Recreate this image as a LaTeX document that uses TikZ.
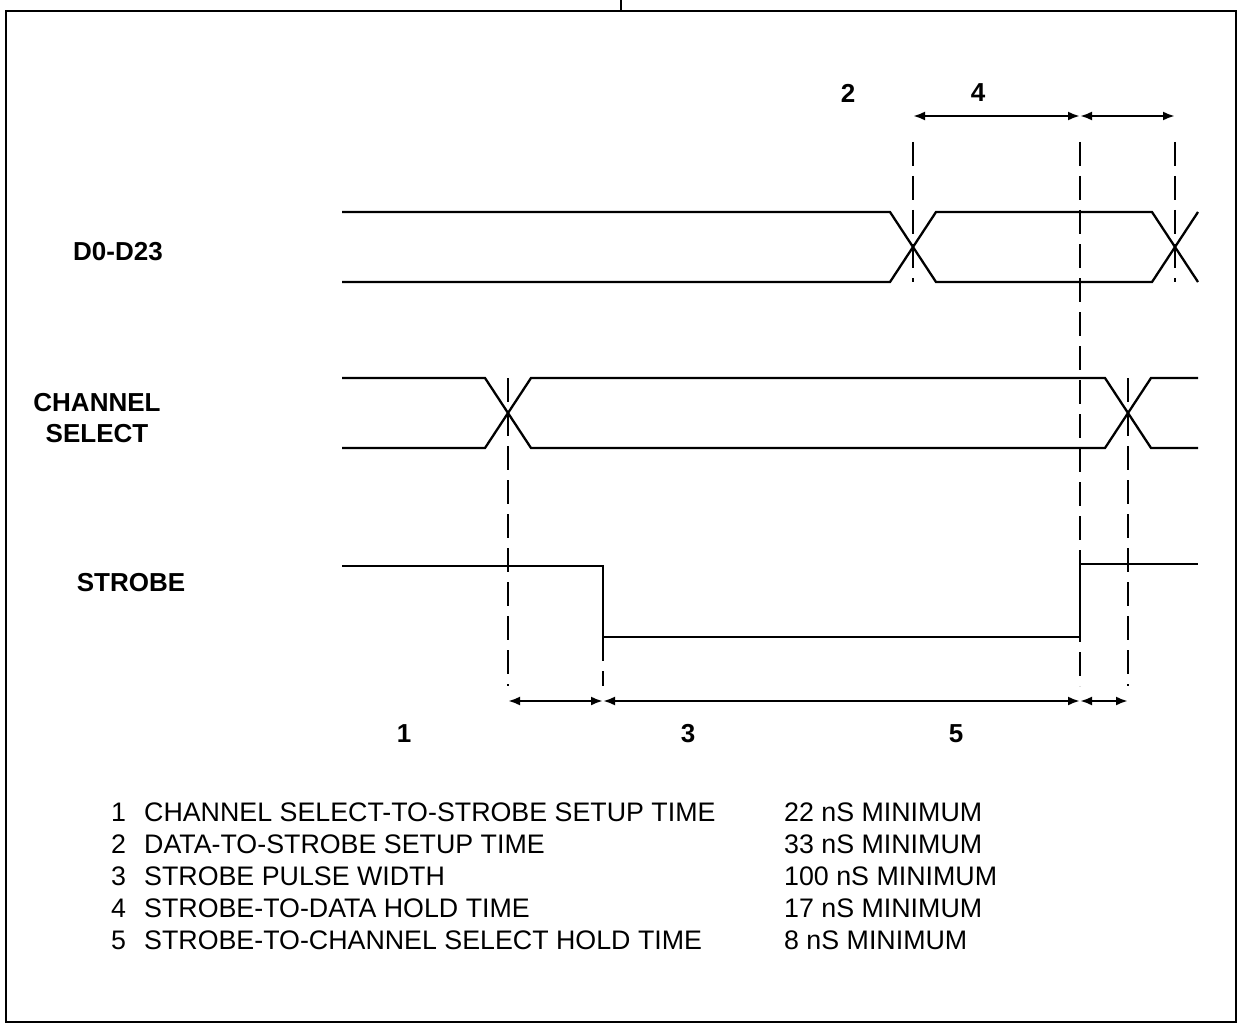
\documentclass[tikz,border=0pt]{standalone}
\usepackage{fontspec}
\setmainfont{Liberation Sans}
\usetikzlibrary{arrows.meta}

\tikzset{every picture/.style={line width=2.3pt}}
\tikzset{
  guide/.style={line width=2pt, dash pattern=on 24pt off 10pt},
  dimarrow/.style={line width=2.3pt, {Latex[length=12pt,width=9pt]}-{Latex[length=12pt,width=9pt]}},
  signame/.style={font=\fontsize{26}{31}\selectfont\bfseries, align=center},
  numlabel/.style={font=\fontsize{26}{30}\selectfont\bfseries},
  legendtxt/.style={font=\fontsize{26.8}{30}\selectfont, anchor=base west, inner sep=0pt}
}

\begin{document}
\begin{tikzpicture}[x=1pt,y=1pt,yscale=-1,xscale=1]
\useasboundingbox (0,0) rectangle (1238,1024);

%Shape: Frame
\draw [line width=2.6pt] (6,11) rectangle (1236,1022);
\draw [line width=2.6pt] (621,0) -- (621,11);

%Guide positions
\coordinate (ga) at (508,0);
\coordinate (gb) at (603,0);
\coordinate (gc) at (913,0);
\coordinate (gd) at (1080,0);
\coordinate (ge) at (1128,0);
\coordinate (gf) at (1175,0);

%Signal D0-D23
\draw (342,212) -- (890,212) -- (936,282) -- (1152,282) -- (1198,212);
\draw (342,282) -- (890,282) -- (936,212) -- (1152,212) -- (1198,282);

%Signal CHANNEL SELECT
\draw (342,378) -- (485,378) -- (531,448) -- (1105,448) -- (1151,378) -- (1198,378);
\draw (342,448) -- (485,448) -- (531,378) -- (1105,378) -- (1151,448) -- (1198,448);

%Signal STROBE
\draw (342,566) -- (603,566) -- (603,637) -- (1080,637) -- (1080,564) -- (1198,564);

%Dashed guides
\draw [guide] (ga |- 0,378) -- (ga |- 0,686);
\draw [guide] (gb |- 0,637) -- (gb |- 0,686);
\draw [guide] (gc |- 0,142) -- (gc |- 0,282);
\draw [guide] (gd |- 0,142) -- (gd |- 0,686);
\draw [guide] (ge |- 0,378) -- (ge |- 0,686);
\draw [guide] (gf |- 0,142) -- (gf |- 0,282);

%Dimension arrows, top
\coordinate (tc) at (gc |- 0,116);
\coordinate (td) at (gd |- 0,116);
\coordinate (tf) at (gf |- 0,116);
\draw [dimarrow] (tc) -- (td);
\draw [dimarrow] (td) -- (tf);

%Dimension arrows, bottom
\coordinate (ba) at (ga |- 0,701);
\coordinate (bb) at (gb |- 0,701);
\coordinate (bd) at (gd |- 0,701);
\coordinate (be) at (ge |- 0,701);
\draw [dimarrow] (ba) -- (bb);
\draw [dimarrow] (bb) -- (bd);
\draw [dimarrow] (bd) -- (be);

% Text Node
\node [signame] (sigdata) at (118,252) {D0-D23};
\node [signame] (sigchan) at (97,418) {CHANNEL\\SELECT};
\node [signame] (sigstrobe) at (131,583) {STROBE};

% Text Node
\node [numlabel] (num2) at (848,93) {2};
\node [numlabel] (num4) at (978,93) {4};
\node [numlabel] (num1) at (404,734) {1};
\node [numlabel] (num3) at (688,734) {3};
\node [numlabel] (num5) at (956,734) {5};

% Legend
\node [legendtxt] (k1) at (110,821) {1};
\node [legendtxt] (t1) at (143,821) {CHANNEL SELECT-TO-STROBE SETUP TIME};
\node [legendtxt] (v1) at (783,821) {22 nS MINIMUM};
\node [legendtxt] (k2) at (110,853) {2};
\node [legendtxt] (t2) at (143,853) {DATA-TO-STROBE SETUP TIME};
\node [legendtxt] (v2) at (783,853) {33 nS MINIMUM};
\node [legendtxt] (k3) at (110,885) {3};
\node [legendtxt] (t3) at (143,885) {STROBE PULSE WIDTH};
\node [legendtxt] (v3) at (783,885) {100 nS MINIMUM};
\node [legendtxt] (k4) at (110,917) {4};
\node [legendtxt] (t4) at (143,917) {STROBE-TO-DATA HOLD TIME};
\node [legendtxt] (v4) at (783,917) {17 nS MINIMUM};
\node [legendtxt] (k5) at (110,949) {5};
\node [legendtxt] (t5) at (143,949) {STROBE-TO-CHANNEL SELECT HOLD TIME};
\node [legendtxt] (v5) at (783,949) {8 nS MINIMUM};

\end{tikzpicture}
\end{document}
